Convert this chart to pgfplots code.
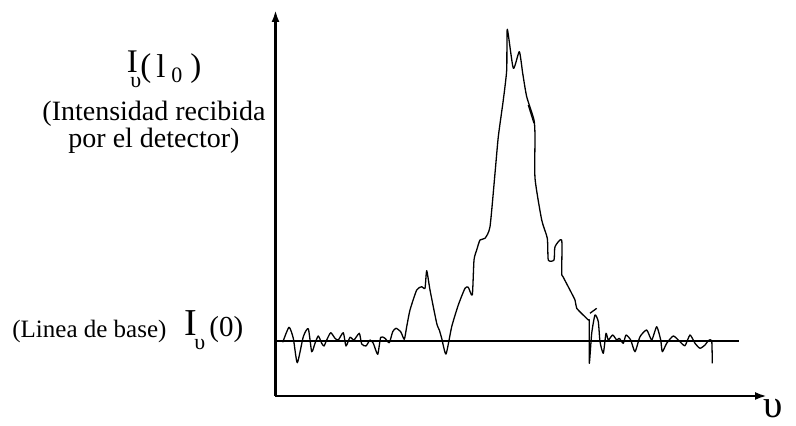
\documentclass[border=0pt]{standalone}
\usepackage{fontspec}
\setmainfont{Liberation Serif}
\usepackage{pgfplots}
\pgfplotsset{compat=1.18}
\usetikzlibrary{arrows.meta}

\begin{document}
\begin{tikzpicture}
\begin{axis}[
    x=0.5pt, y=0.5pt,
    xmin=275.5, xmax=767,
    ymin=30, ymax=416,
    axis lines=left,
    axis line style={line width=1.3pt, -{Latex[length=6pt,width=4pt]}},
    xtick=\empty, ytick=\empty,
    clip=false,
]
% keep the page at the size of the reference (796 x 426 px)
\path (axis cs:0,0) rectangle (axis cs:796,426);

% linea de base
\addplot[black, line width=1pt] coordinates {(275.5,84.5) (739.3,84.5)};

% senal recibida
\addplot[black, line width=0.65pt, smooth, tension=0.35, line join=round] coordinates {
(282.7,83.7) (289,98.7) (293.3,87.7) (297.3,63.3) (303.3,89.3) (308.3,97.3)
(311.7,74.3) (315,82.7) (318.3,90) (321.7,82.7) (324,80) (326.7,86)
(330.7,93.3) (335,87.7) (338.3,86) (343.3,93.3) (346,80) (350,88.7)
(354,86) (359.3,92.7) (361.7,82) (366,80) (370,86) (373.3,82.7)
(377.7,71.7) (380.7,88.7) (385,87.7) (389.3,83.3) (392.7,94.3) (396,97.7)
(400.7,94.3) (404.3,86.7) (406.7,99.3) (410,116) (416.7,136) (421.7,139.3)
(425,137.7) (426.7,155.3) (430,136) (436.7,102.7) (439.3,96) (441.7,87.7)
(446,72) (451.7,99.3) (458.3,121) (465,137.7) (468.3,138.7) (472.3,131)
(474,166) (476.7,176) (480,186) (485,187.7) (490,199.3) (495,252.7)
(498.3,289.3) (503.3,326) (506.7,356) (507.3,396.7) (513.3,357.7) (519.3,374.3)
(522.7,352.7) (526.7,329.3) (534,306) (535,289.3) (535,247.7) (541.7,206)
(547.3,187.7) (548.3,166) (554,166) (555,179.3) (561.7,186) (561.7,152.7)
(563,149.3) (575,126) (576.7,117.7) (588.3,106) (589.3,104.3) (589.3,62.7)
(591.7,92.7) (595,111) (598.3,104.3) (600,84.3) (603.3,72.7) (606,92.7)
(608.3,86) (612.7,91) (616.7,86) (619.3,87.7) (623.3,82.7) (626,91)
(630.7,86) (635,74.3) (640,89.3) (646.7,96) (651.7,86) (656.7,99.3)
(660.7,86) (662.3,74.3) (666.7,82.7) (673.3,90) (680,84.3) (685,80.3)
(690,91) (695,82.7) (700,77.7) (705,81) (708.3,85.3) (711.7,85.3)
(712.3,62.7)
};
% trazos sueltos del dibujo
\addplot[black, line width=0.65pt] coordinates {(528.3,321) (534,302.7)};
\addplot[black, line width=0.65pt] coordinates {(590,112.7) (596.7,117.7)};

% rotulos
\node[anchor=base west, inner sep=0] at (axis cs:126.5,353) {\fontsize{16.5}{16.5}\selectfont I};
\node[anchor=base west, inner sep=0] at (axis cs:130,338) {\fontsize{11}{11}\selectfont υ};
\node[anchor=base west, inner sep=0] at (axis cs:140,349) {\fontsize{16.5}{16.5}\selectfont (};
\node[anchor=base west, inner sep=0] at (axis cs:156,348) {\fontsize{16.5}{16.5}\selectfont l};
\node[anchor=base west, inner sep=0] at (axis cs:171,343) {\fontsize{11}{11}\selectfont 0};
\node[anchor=base west, inner sep=0] at (axis cs:190,349) {\fontsize{16.5}{16.5}\selectfont )};
\node[anchor=base, inner sep=0] at (axis cs:154,305) {\fontsize{14}{14}\selectfont (Intensidad recibida};
\node[anchor=base, inner sep=0] at (axis cs:154,278) {\fontsize{14}{14}\selectfont por el detector)};

\node[anchor=base west, inner sep=0] at (axis cs:12,88) {\fontsize{12.5}{12.5}\selectfont (Linea de base)};
\node[anchor=base west, inner sep=0] at (axis cs:184,90) {\fontsize{19}{19}\selectfont I};
\node[anchor=base west, inner sep=0] at (axis cs:194,76) {\fontsize{11}{11}\selectfont υ};
\node[anchor=base west, inner sep=0] at (axis cs:209,89) {\fontsize{14.5}{14.5}\selectfont (0)};

\node[anchor=base west, inner sep=0] at (axis cs:763,8) {\fontsize{19.5}{19.5}\selectfont υ};
\end{axis}
\end{tikzpicture}
\end{document}
